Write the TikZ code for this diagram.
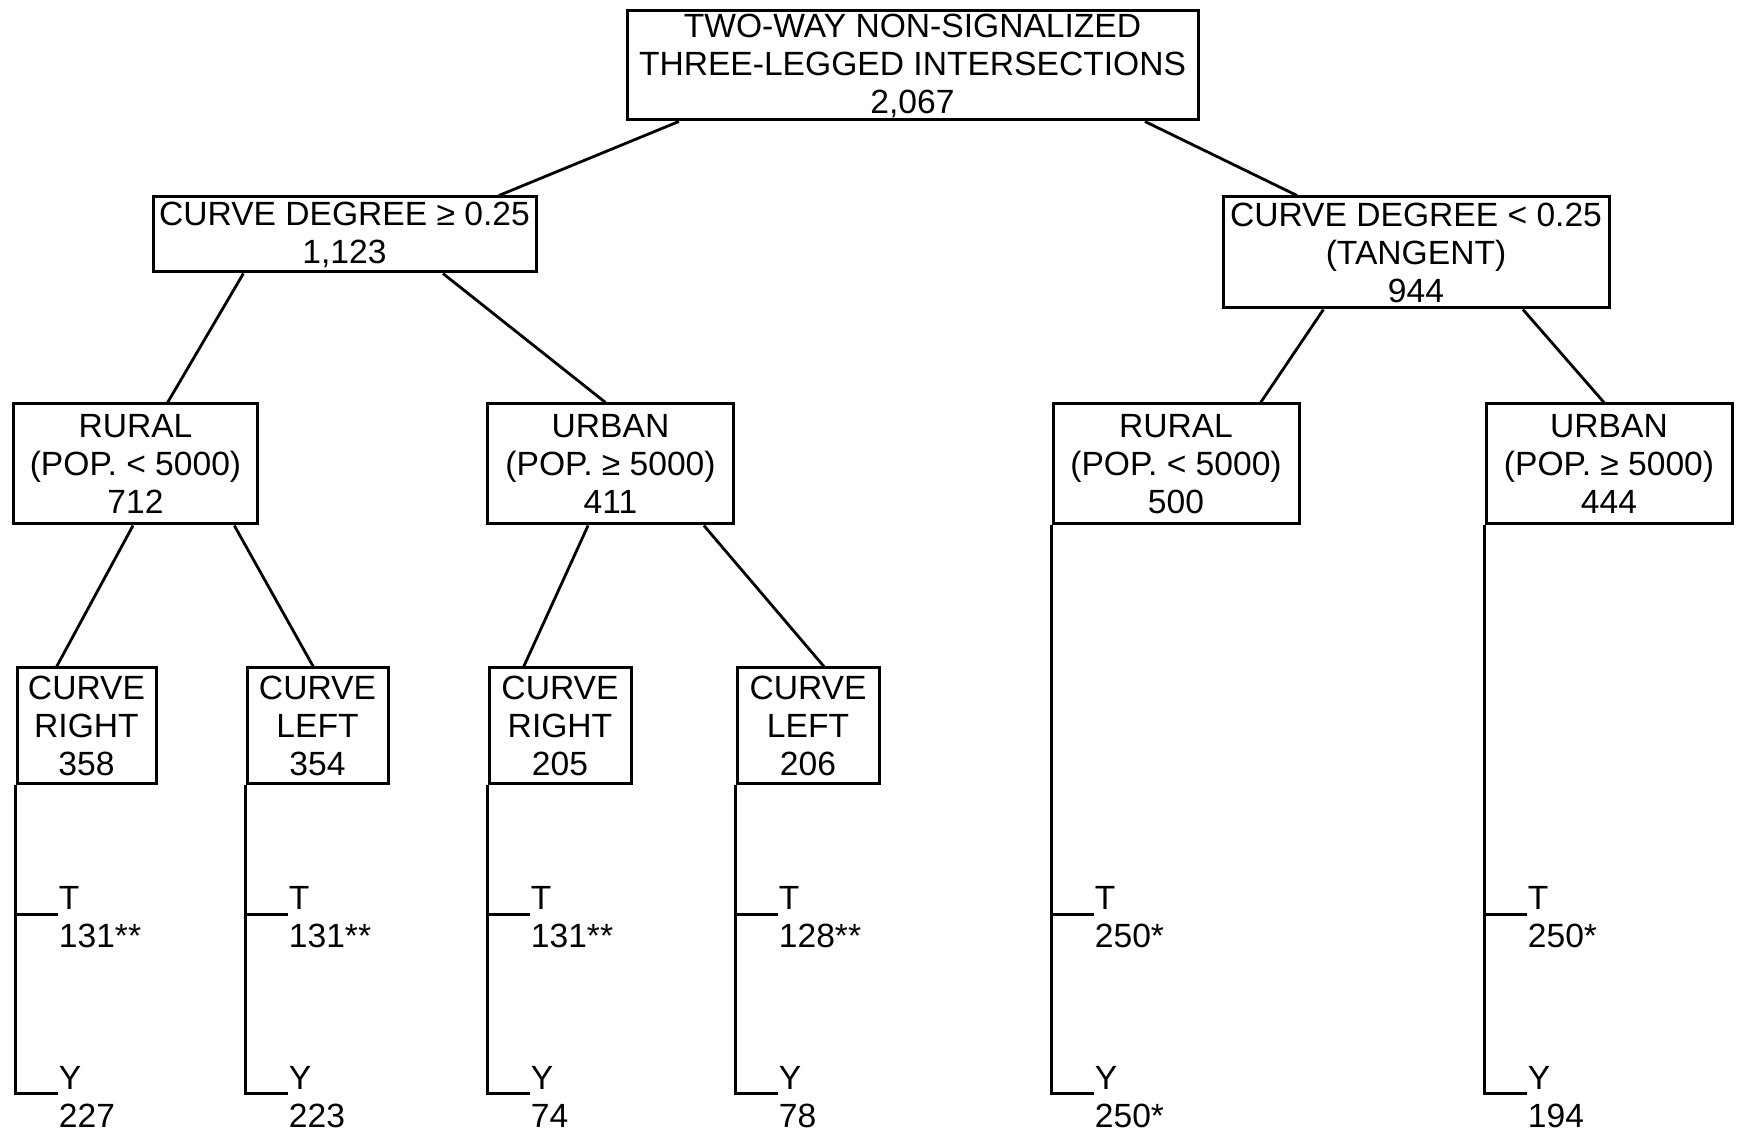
\documentclass[tikz,border=0pt]{standalone}
\usepackage{fontspec}
\setmainfont{Liberation Sans}
\usetikzlibrary{calc}
\begin{document}
\begin{tikzpicture}[x=0.5pt,y=-0.5pt,
  every node/.style={font=\fontsize{16.8}{19}\selectfont},
  box/.style={draw, line width=1.5pt, align=center, inner sep=0pt},
  conn/.style={line width=1.4pt},
  leaf/.style={line width=1.5pt},
  lab/.style={anchor=west, align=left, inner sep=0pt}]
\useasboundingbox (0,0) rectangle (1742,1144);
% boxes
\node[box, minimum width=285.5pt, minimum height=54.5pt] (top) at (912.5,65.5) {TWO-WAY NON-SIGNALIZED\\THREE-LEGGED INTERSECTIONS\\2,067};
\node[box, minimum width=191.5pt, minimum height=37.5pt] (l2l) at (344.5,234.5) {CURVE DEGREE ≥ 0.25\\1,123};
\node[box, minimum width=193pt, minimum height=55.5pt] (l2r) at (1416,252.5) {CURVE DEGREE < 0.25\\(TANGENT)\\944};
\node[box, minimum width=122pt, minimum height=60pt] (rl) at (135.5,464) {RURAL\\(POP. < 5000)\\712};
\node[box, minimum width=123pt, minimum height=60pt] (ul) at (610.5,464) {URBAN\\(POP. ≥ 5000)\\411};
\node[box, minimum width=123pt, minimum height=60pt] (rr) at (1176,464) {RURAL\\(POP. < 5000)\\500};
\node[box, minimum width=123pt, minimum height=60pt] (ur) at (1609,464) {URBAN\\(POP. ≥ 5000)\\444};
\node[box, minimum width=69.5pt, minimum height=57.5pt] (crl) at (86.5,725.5) {CURVE\\RIGHT\\358};
\node[box, minimum width=70.5pt, minimum height=57.5pt] (cll) at (317.5,725.5) {CURVE\\LEFT\\354};
\node[box, minimum width=71pt, minimum height=57.5pt] (cru) at (560,725.5) {CURVE\\RIGHT\\205};
\node[box, minimum width=71pt, minimum height=57.5pt] (clu) at (808,725.5) {CURVE\\LEFT\\206};
% tree connectors
\draw[conn] ($(top.south west)!0.093!(top.south east)$) -- ($(l2l.north west)!0.90!(l2l.north east)$);
\draw[conn] ($(top.south west)!0.905!(top.south east)$) -- ($(l2r.north west)!0.194!(l2r.north east)$);
\draw[conn] ($(l2l.south west)!0.238!(l2l.south east)$) -- ($(rl.north west)!0.63!(rl.north east)$);
\draw[conn] ($(l2l.south west)!0.755!(l2l.south east)$) -- ($(ul.north west)!0.48!(ul.north east)$);
\draw[conn] ($(l2r.south west)!0.262!(l2r.south east)$) -- ($(rr.north west)!0.84!(rr.north east)$);
\draw[conn] ($(l2r.south west)!0.775!(l2r.south east)$) -- ($(ur.north west)!0.48!(ur.north east)$);
\draw[conn] ($(rl.south west)!0.49!(rl.south east)$) -- ($(crl.north west)!0.29!(crl.north east)$);
\draw[conn] ($(rl.south west)!0.90!(rl.south east)$) -- ($(cll.north west)!0.47!(cll.north east)$);
\draw[conn] ($(ul.south west)!0.41!(ul.south east)$) -- ($(cru.north west)!0.25!(cru.north east)$);
\draw[conn] ($(ul.south west)!0.875!(ul.south east)$) -- ($(clu.north west)!0.61!(clu.north east)$);
% leaf branches
\coordinate (rowT) at (0,914);
\coordinate (rowY) at (0,1093);
\foreach \n/\tv/\yv in {crl/131**/227, cll/131**/223, cru/131**/74, clu/128**/78, rr/250*/250*, ur/250*/194}{
  \coordinate (\n-T) at (\n.south west |- rowT);
  \coordinate (\n-Y) at (\n.south west |- rowY);
  \coordinate (\n-Te) at ($(\n-T)+(42,0)$);
  \coordinate (\n-Ye) at ($(\n-Y)+(42,0)$);
  \node[lab] (\n-Tl) at ($(\n-Te)+(1,3)$) {T\\\tv};
  \node[lab] (\n-Yl) at ($(\n-Ye)+(1,4)$) {Y\\\yv};
  \draw[leaf] (\n.south west) -- (\n-Y) -- (\n-Ye);
  \draw[leaf] (\n-T) -- (\n-Te);
}
\end{tikzpicture}
\end{document}
